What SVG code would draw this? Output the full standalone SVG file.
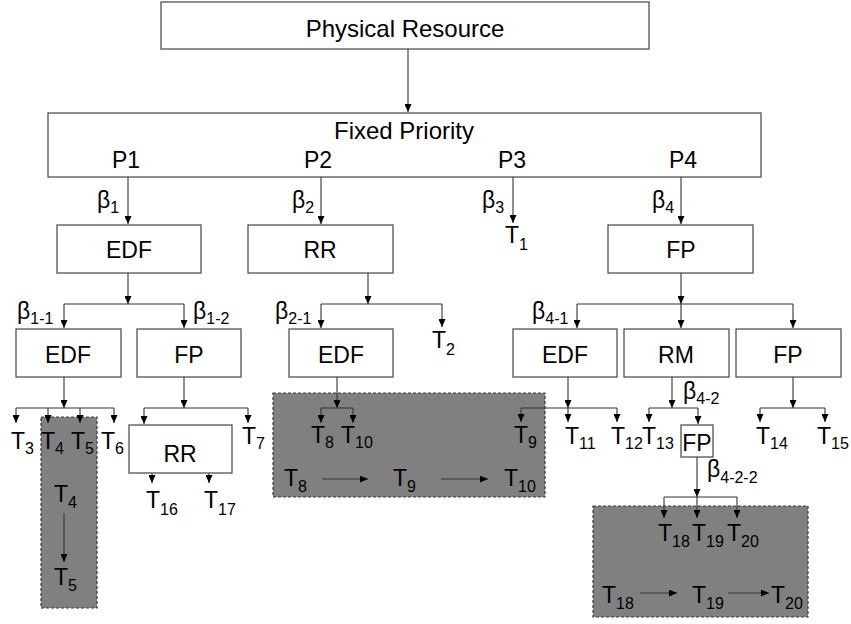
<svg xmlns="http://www.w3.org/2000/svg" width="851" height="624" viewBox="0 0 851 624">
<style>
text{font-family:"Liberation Sans",Arial,Helvetica,sans-serif;font-size:23px;fill:#000}
.c{text-anchor:middle}
.big{font-size:24px}
.s{font-size:16px}
.box{fill:#fff;stroke:#444;stroke-width:1.2}
.shade{fill:#808080;stroke:#3a3a3a;stroke-width:1.2;stroke-dasharray:3,2}
#connectors path{fill:none;stroke:#333;stroke-width:1.1}
.arr{marker-end:url(#ah)}
</style>
<defs>
<marker id="ah" markerWidth="8" markerHeight="7" refX="8" refY="3.5" orient="auto" markerUnits="userSpaceOnUse">
<path d="M0,0 L8,3.5 L0,7 z" fill="#000"/>
</marker>
</defs>
<rect width="851" height="624" fill="#fff"/>

<g id="group1"><rect class="shade" x="41" y="417" width="56" height="191"/></g>
<g id="group2"><rect class="shade" x="273" y="393" width="272" height="104"/></g>
<g id="group3"><rect class="shade" x="593" y="506" width="215" height="111"/></g>

<g id="connectors">
<path class="arr" d="M408,49 V112"/>
<path class="arr" d="M128,177 V224"/>
<path class="arr" d="M321,177 V224"/>
<path class="arr" d="M513,177 V223"/>
<path class="arr" d="M681,177 V224"/>
<path class="arr" d="M128,273 V304"/>
<path d="M64,304 H184"/>
<path class="arr" d="M64,304 V328"/>
<path class="arr" d="M184,304 V328"/>
<path class="arr" d="M368,273 V304"/>
<path d="M321,304 H442"/>
<path class="arr" d="M321,304 V328"/>
<path class="arr" d="M442,304 V327"/>
<path class="arr" d="M681,273 V304"/>
<path d="M577,304 H793"/>
<path class="arr" d="M577,304 V328"/>
<path class="arr" d="M681,304 V328"/>
<path class="arr" d="M793,304 V328"/>
<path class="arr" d="M64,377 V408"/>
<path d="M16,408 H114"/>
<path class="arr" d="M16,408 V423"/>
<path class="arr" d="M48,408 V423"/>
<path class="arr" d="M80,408 V423"/>
<path class="arr" d="M114,408 V423"/>
<path class="arr" d="M184,377 V408"/>
<path d="M144,408 H248"/>
<path class="arr" d="M144,408 V424"/>
<path class="arr" d="M248,408 V423"/>
<path class="arr" d="M152,473 V483"/>
<path class="arr" d="M209,473 V483"/>
<path class="arr" d="M337,377 V408"/>
<path d="M321,408 H353"/>
<path class="arr" d="M321,408 V423"/>
<path class="arr" d="M353,408 V423"/>
<path class="arr" d="M568,377 V408"/>
<path d="M521,408 H617"/>
<path class="arr" d="M521,408 V422"/>
<path class="arr" d="M568,408 V422"/>
<path class="arr" d="M617,408 V422"/>
<path class="arr" d="M672,377 V408"/>
<path d="M649,408 H698"/>
<path class="arr" d="M649,408 V422"/>
<path class="arr" d="M698,408 V424"/>
<path class="arr" d="M793,377 V408"/>
<path d="M760,408 H825"/>
<path class="arr" d="M760,408 V422"/>
<path class="arr" d="M825,408 V422"/>
<path class="arr" d="M697,457 V497"/>
<path d="M664,497 H737"/>
<path class="arr" d="M664,497 V518"/>
<path class="arr" d="M697,497 V518"/>
<path class="arr" d="M737,497 V518"/>
<path class="arr" d="M64,513 V562"/>
<path class="arr" d="M322,479 H368"/>
<path class="arr" d="M441,479 H488"/>
<path class="arr" d="M640,593 H677"/>
<path class="arr" d="M728,593 H769"/>
</g>

<g id="physical-resource"><rect class="box" x="161" y="2" width="488" height="47"/><text class="c big" x="405" y="37">Physical Resource</text></g>
<g id="fixed-priority"><rect class="box" x="48" y="113" width="713" height="64"/><text class="c big" x="404" y="139">Fixed Priority</text>
<text class="c" x="126" y="168">P1</text><text class="c" x="318" y="168">P2</text><text class="c" x="512" y="168">P3</text><text class="c" x="683" y="168">P4</text></g>

<g id="labels-beta">
<text x="97" y="208">β<tspan class="s" dy="5">1</tspan></text>
<text x="292" y="208">β<tspan class="s" dy="5">2</tspan></text>
<text x="482" y="208">β<tspan class="s" dy="5">3</tspan></text>
<text x="652" y="208">β<tspan class="s" dy="5">4</tspan></text>
<text x="17" y="319">β<tspan class="s" dy="5">1-1</tspan></text>
<text x="193" y="319">β<tspan class="s" dy="5">1-2</tspan></text>
<text x="275" y="319">β<tspan class="s" dy="5">2-1</tspan></text>
<text x="532" y="319">β<tspan class="s" dy="5">4-1</tspan></text>
<text x="683" y="399">β<tspan class="s" dy="5">4-2</tspan></text>
<text x="707" y="477">β<tspan class="s" dy="6">4-2-2</tspan></text>
</g>

<g id="edf1"><rect class="box" x="57" y="225" width="144" height="48"/><text class="c" x="129" y="258">EDF</text></g>
<g id="rr1"><rect class="box" x="248" y="225" width="145" height="48"/><text class="c" x="320" y="258">RR</text></g>
<g id="t1"><text x="505" y="243">T<tspan class="s" dy="7">1</tspan></text></g>
<g id="fp1"><rect class="box" x="608" y="225" width="145" height="48"/><text class="c" x="681" y="258">FP</text></g>

<g id="edf11"><rect class="box" x="16" y="329" width="105" height="48"/><text class="c" x="68" y="363">EDF</text></g>
<g id="fp12"><rect class="box" x="137" y="329" width="104" height="48"/><text class="c" x="189" y="363">FP</text></g>
<g id="edf21"><rect class="box" x="289" y="329" width="104" height="48"/><text class="c" x="341" y="363">EDF</text></g>
<g id="t2"><text x="432" y="348">T<tspan class="s" dy="7">2</tspan></text></g>
<g id="edf41"><rect class="box" x="513" y="329" width="104" height="48"/><text class="c" x="565" y="363">EDF</text></g>
<g id="rm42"><rect class="box" x="624" y="329" width="105" height="48"/><text class="c" x="676" y="363">RM</text></g>
<g id="fp43"><rect class="box" x="736" y="329" width="105" height="48"/><text class="c" x="788" y="363">FP</text></g>

<g id="tasks-row3">
<text x="11" y="449">T<tspan class="s" dy="5">3</tspan></text>
<text x="41" y="449">T<tspan class="s" dy="5">4</tspan></text>
<text x="71" y="449">T<tspan class="s" dy="5">5</tspan></text>
<text x="101" y="449">T<tspan class="s" dy="5">6</tspan></text>
<text x="242" y="444">T<tspan class="s" dy="5">7</tspan></text>
<text x="311" y="443">T<tspan class="s" dy="5">8</tspan></text>
<text x="341" y="443">T<tspan class="s" dy="5">10</tspan></text>
<text x="514" y="443">T<tspan class="s" dy="5">9</tspan></text>
<text x="565" y="444">T<tspan class="s" dy="5">11</tspan></text>
<text x="611" y="444">T<tspan class="s" dy="5">12</tspan></text>
<text x="642" y="444">T<tspan class="s" dy="5">13</tspan></text>
<text x="756" y="444">T<tspan class="s" dy="5">14</tspan></text>
<text x="817" y="444">T<tspan class="s" dy="5">15</tspan></text>
</g>
<g id="rr12"><rect class="box" x="129" y="425" width="103" height="48"/><text class="c" x="180" y="462">RR</text></g>
<g id="tasks-rr">
<text x="146" y="508">T<tspan class="s" dy="7">16</tspan></text>
<text x="204" y="508">T<tspan class="s" dy="7">17</tspan></text>
</g>
<g id="fp422"><rect class="box" x="681" y="425" width="32" height="32"/><text class="c" x="697" y="451">FP</text></g>

<g id="group1-text">
<text x="54" y="502">T<tspan class="s" dy="6">4</tspan></text>
<text x="54" y="585">T<tspan class="s" dy="6">5</tspan></text>
</g>
<g id="group2-text">
<text x="284" y="486">T<tspan class="s" dy="6">8</tspan></text>
<text x="393" y="486">T<tspan class="s" dy="6">9</tspan></text>
<text x="504" y="486">T<tspan class="s" dy="6">10</tspan></text>
</g>
<g id="group3-text">
<text x="658" y="541">T<tspan class="s" dy="6">18</tspan></text>
<text x="692" y="541">T<tspan class="s" dy="6">19</tspan></text>
<text x="727" y="541">T<tspan class="s" dy="6">20</tspan></text>
<text x="602" y="603">T<tspan class="s" dy="6">18</tspan></text>
<text x="692" y="603">T<tspan class="s" dy="6">19</tspan></text>
<text x="771" y="603">T<tspan class="s" dy="6">20</tspan></text>
</g>
</svg>
